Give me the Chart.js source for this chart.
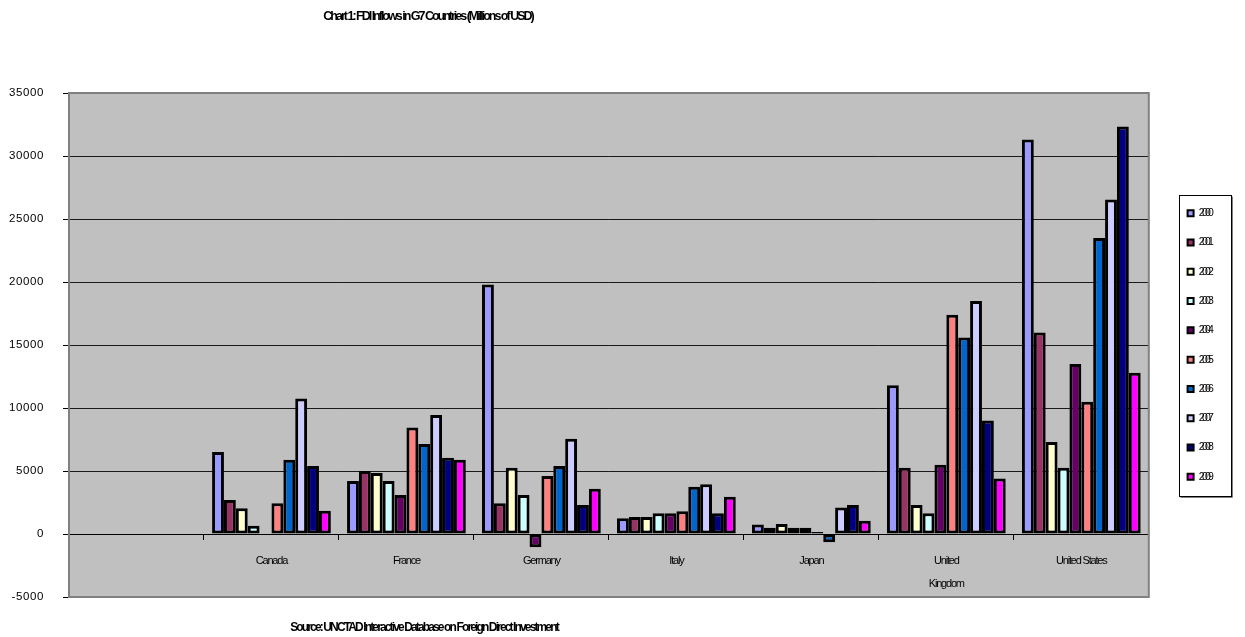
<!DOCTYPE html>
<html>
<head>
<meta charset="utf-8">
<title>FDI Inflows in G7 Countries</title>
<script src="https://cdn.jsdelivr.net/npm/chart.js@4.4.1/dist/chart.umd.min.js"></script>
<style>
  html, body { margin: 0; padding: 0; background: #ffffff; }
  #wrap { position: relative; width: 1245px; height: 637px; }
</style>
</head>
<body>
<div id="wrap"><canvas id="fdi"></canvas></div>
<script>
// Countries (the first slot is an empty category)
const countries = ['', 'Canada', 'France', 'Germany', 'Italy', 'Japan', ['United', 'Kingdom'], 'United States'];
const years = ['2000', '2001', '2002', '2003', '2004', '2005', '2006', '2007', '2008', '2009'];

// FDI inflows, millions of USD, one array per year (same order as countries)
const fdi2000 = [null, 6500, 4200, 19800, 1250, 750, 11800, 31300];
const fdi2001 = [null, 2700, 5000, 2450, 1350, 500, 5250, 16000];
const fdi2002 = [null, 2050, 4850, 5250, 1350, 800, 2300, 7300];
const fdi2003 = [null, 650, 4200, 3100, 1650, 500, 1650, 5250];
const fdi2004 = [null, null, 3100, -1050, 1650, 500, 5500, 13500];
const fdi2005 = [null, 2450, 8450, 4600, 1800, 150, 17400, 10500];
const fdi2006 = [null, 5900, 7150, 5400, 3750, -650, 15600, 23500];
const fdi2007 = [null, 10750, 9450, 7550, 3950, 2100, 18500, 26550];
const fdi2008 = [null, 5400, 6050, 2300, 1650, 2300, 9000, 32350];
const fdi2009 = [null, 1850, 5900, 3600, 2950, 1050, 4400, 12800];

const yTicks = [-5000, 0, 5000, 10000, 15000, 20000, 25000, 30000, 35000];

const seriesValues = [fdi2000, fdi2001, fdi2002, fdi2003, fdi2004, fdi2005, fdi2006, fdi2007, fdi2008, fdi2009];
const palette = ['#9999FF', '#993366', '#FFFFCC', '#CCFFFF', '#660066', '#FF8080', '#0066CC', '#CCCCFF', '#000080', '#FF00FF'];

const TITLE = 'Chart 1: FDI Inflows in G7 Countries (Millions of USD)';
const SOURCE = 'Source: UNCTAD Interactive Database on Foreign Direct Investment';
const FAMILY = '"Liberation Sans", Arial, sans-serif';

// Tracking per font size, so each text group gets its own squeeze
const tracking = [
  ['12.5px', '-2px'],    // title
  ['11.5px', '0.6px'],   // value axis
  ['11px', '-1.2px'],    // country labels
  ['10.5px', '-2.8px'],  // legend
  ['12px', '-1.87px']    // source line
];
function trackingFor(font) {
  for (const [size, sp] of tracking) if (font.indexOf(size) !== -1) return sp;
  return '0px';
}

const trackingPlugin = {
  id: 'tracking',
  beforeInit(chart) {
    const ctx = chart.ctx;
    const fill = ctx.fillText, measure = ctx.measureText;
    ctx.fillText = function (t, x, y, w) {
      this.letterSpacing = trackingFor(this.font);
      return w === undefined ? fill.call(this, t, x, y) : fill.call(this, t, x, y, w);
    };
    ctx.measureText = function (t) {
      this.letterSpacing = trackingFor(this.font);
      return measure.call(this, t);
    };
  }
};

// Grey plot area, its frame, the legend frame, heading and source line
const framePlugin = {
  id: 'frame',
  beforeDraw(chart) {
    const {ctx, chartArea: a} = chart;
    ctx.save();
    ctx.fillStyle = '#C0C0C0';
    ctx.fillRect(a.left, a.top, a.right - a.left, a.bottom - a.top);
    ctx.restore();
  },
  afterDraw(chart) {
    const {ctx, chartArea: a} = chart;
    ctx.save();
    ctx.strokeStyle = '#808080';
    ctx.lineWidth = 2;
    ctx.strokeRect(a.left, a.top, a.right - a.left, a.bottom - a.top);

    const lg = chart.legend;
    if (lg && lg.legendHitBoxes && lg.legendHitBoxes.length) {
      const hb = lg.legendHitBoxes;
      const first = hb[0], last = hb[hb.length - 1];
      const x0 = Math.round(first.left - 9) + 0.5;
      const y0 = Math.round(first.top - 13) + 0.5;
      const w = 52, h = Math.round(last.top + last.height + 14 - first.top + 13);
      ctx.lineWidth = 1;
      ctx.strokeStyle = '#808080';
      ctx.beginPath();
      ctx.moveTo(x0 + w + 1, y0 + 1);
      ctx.lineTo(x0 + w + 1, y0 + h + 1);
      ctx.lineTo(x0 + 1, y0 + h + 1);
      ctx.stroke();
      ctx.strokeStyle = '#000000';
      ctx.strokeRect(x0, y0, w, h);
    }

    ctx.fillStyle = '#000000';
    ctx.textAlign = 'center';
    ctx.textBaseline = 'middle';
    ctx.font = 'bold 12.5px ' + FAMILY;
    ctx.fillText(TITLE, 428, 17);
    ctx.font = 'bold 12px ' + FAMILY;
    ctx.fillText(SOURCE, 424, 628);
    ctx.restore();
  }
};

const datasets = years.map((yr, i) => ({
  label: yr,
  data: seriesValues[i],
  backgroundColor: palette[i],
  borderColor: '#000000',
  borderWidth: 3,
  borderSkipped: false,
  categoryPercentage: 0.88,
  barPercentage: 1.0
}));

new Chart(document.getElementById('fdi'), {
  type: 'bar',
  data: { labels: countries, datasets },
  plugins: [trackingPlugin, framePlugin],
  options: {
    responsive: true,
    maintainAspectRatio: false,
    animation: false,
    layout: { padding: { top: 93, bottom: 40, left: 0, right: 24 } },
    plugins: {
      title: { display: false },
      tooltip: { enabled: false },
      legend: {
        display: true,
        position: 'right',
        fullSize: false,
        align: 'center',
        labels: {
          boxWidth: 6,
          boxHeight: 6,
          padding: 18.8,
          color: '#000000',
          font: { family: FAMILY, size: 10.5 },
          generateLabels(chart) {
            return Chart.defaults.plugins.legend.labels.generateLabels(chart)
              .map(item => Object.assign(item, { lineWidth: 2 }));
          }
        }
      }
    },
    scales: {
      x: {
        type: 'category',
        position: { y: 0 },
        offset: true,
        grid: {
          display: true,
          offset: true,
          drawOnChartArea: false,
          drawTicks: true,
          tickLength: 5,
          color: '#000000'
        },
        border: { display: true, color: '#000000', width: 1 },
        ticks: {
          color: '#000000',
          autoSkip: false,
          maxRotation: 0,
          padding: 10,
          font: { family: FAMILY, size: 11, lineHeight: '23px' }
        }
      },
      y: {
        type: 'linear',
        position: 'left',
        min: yTicks[0],
        max: yTicks[yTicks.length - 1],
        afterBuildTicks(scale) { scale.ticks = yTicks.map(v => ({ value: v })); },
        afterFit(scale) { scale.width = 69; },
        grid: {
          display: true,
          drawTicks: true,
          tickLength: 6,
          tickColor: '#000000',
          lineWidth: 1,
          color: c => (c.tick && (c.tick.value === yTicks[0] || c.tick.value === yTicks[yTicks.length - 1])) ? 'rgba(0,0,0,0)' : '#1a1a1a'
        },
        border: { display: false },
        ticks: {
          color: '#000000',
          padding: 19,
          font: { family: FAMILY, size: 11.5 },
          callback: v => String(v)
        }
      },
      gap: {
        type: 'linear',
        position: 'right',
        display: true,
        grid: { display: false },
        border: { display: false },
        ticks: { display: false },
        afterFit(scale) { scale.width = 20; }
      }
    }
  }
});
</script>
</body>
</html>
